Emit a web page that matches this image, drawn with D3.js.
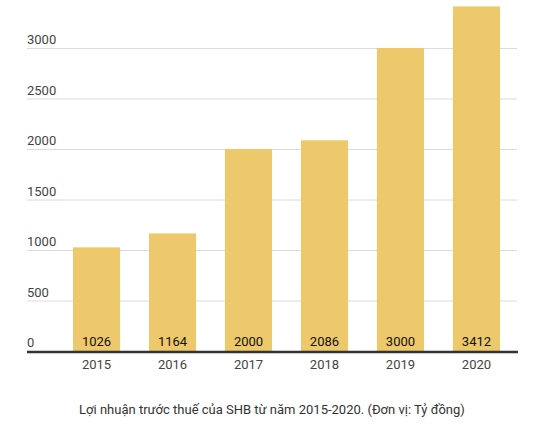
<!DOCTYPE html>
<html>
<head>
<meta charset="utf-8">
<script src="https://cdn.jsdelivr.net/npm/d3@7"></script>
<style>
body{margin:0;background:#fff;}
svg{display:block;font-family:Roboto,"Noto Sans",sans-serif;}
</style>
</head>
<body>
<svg id="chart" width="547" height="443"></svg>
<script>
const years = ["2015","2016","2017","2018","2019","2020"];
const profits = [1026,1164,2000,2086,3000,3412];
const yTicks = [0,500,1000,1500,2000,2500,3000];
const caption = "Lợi nhuận trước thuế của SHB từ năm 2015-2020. (Đơn vị: Tỷ đồng)";

const svg = d3.select("#chart");
const x = d3.scaleBand().domain(years).range([73,500]).paddingInner(0.38).paddingOuter(0);
const y = d3.scaleLinear().domain([0,3000]).range([351,48]);

// gridlines
svg.append("g").selectAll("line").data(yTicks.filter(d=>d>0)).join("line")
  .attr("x1",27).attr("x2",517)
  .attr("y1",d=>y(d)+0.5).attr("y2",d=>y(d)+0.5)
  .attr("stroke","#dcdcdc").attr("stroke-width",1);

// y tick labels
svg.append("g").selectAll("text").data(yTicks).join("text")
  .attr("x",27).attr("y",d=>y(d)-4)
  .attr("font-size",13).attr("fill","#444")
  .text(d=>d);

// bars
svg.append("g").selectAll("rect").data(years).join("rect")
  .attr("x",d=>x(d)).attr("width",x.bandwidth())
  .attr("y",(d,i)=>y(profits[i])).attr("height",(d,i)=>y(0)-y(profits[i]))
  .attr("fill","#edc96b");

// value labels
svg.append("g").selectAll("text").data(years).join("text")
  .attr("x",d=>x(d)+x.bandwidth()/2).attr("y",346)
  .attr("text-anchor","middle").attr("font-size",13).attr("font-weight",400).attr("fill","#111")
  .text((d,i)=>profits[i]);

// axis line
svg.append("line").attr("x1",27).attr("x2",518).attr("y1",352).attr("y2",352)
  .attr("stroke","#333").attr("stroke-width",2.5);

// x labels
svg.append("g").selectAll("text").data(years).join("text")
  .attr("x",d=>x(d)+x.bandwidth()/2).attr("y",369)
  .attr("text-anchor","middle").attr("font-size",13).attr("fill","#444")
  .text(d=>d);

// caption
svg.append("text").attr("x",272).attr("y",414).attr("text-anchor","middle")
  .attr("font-size",13).attr("fill","#333").text(caption);
</script>
</body>
</html>
